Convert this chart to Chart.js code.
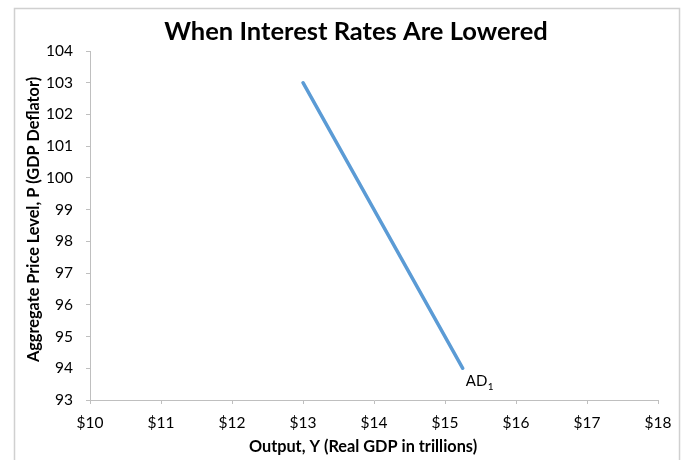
<!DOCTYPE html>
<html>
<head>
<meta charset="utf-8">
<script src="https://cdn.jsdelivr.net/npm/chart.js@4/dist/chart.umd.min.js"></script>
<style>
html,body{margin:0;padding:0;background:#fff;}
#wrap{width:684px;height:460px;position:relative;}
</style>
</head>
<body>
<div id="wrap"><canvas id="c" width="684" height="460"></canvas></div>
<script>
// Data
const chartTitle = 'When Interest Rates Are Lowered';
const xAxisTitle = 'Output, Y (Real GDP in trillions)';
const yAxisTitle = 'Aggregate Price Level, P (GDP Deflator)';
const outputTrillions = [13, 15.25];
const priceLevel = [103, 94];
const curveName = 'AD';
const curveSub = '1';
const xMin = 10, xMax = 18;
const yMin = 93, yMax = 104;

const FONT = 'Lato, "Liberation Sans", sans-serif';
const AXIS_GREY = '#bfbfbf';

const framePlugin = {
  id: 'frame',
  beforeDraw(chart) {
    const ctx = chart.ctx;
    ctx.save();
    ctx.strokeStyle = '#d0d0d0';
    ctx.lineWidth = 1.5;
    ctx.strokeRect(14.5, 8.5, 665, 480);
    ctx.restore();
  }
};

const titlesPlugin = {
  id: 'titles',
  afterDraw(chart) {
    const ctx = chart.ctx;
    const a = chart.chartArea;
    ctx.save();
    ctx.fillStyle = '#000';
    // main title
    ctx.font = 'bold 25.5px ' + FONT;
    ctx.textAlign = 'center';
    ctx.textBaseline = 'alphabetic';
    ctx.fillText(chartTitle, 356, 40);
    // x axis title
    ctx.font = 'bold 16.3px ' + FONT;
    ctx.textBaseline = 'middle';
    ctx.fillText(xAxisTitle, (a.left + a.right) / 2 - 11, a.bottom + 47);
    // y axis title
    ctx.translate(34, (a.top + a.bottom) / 2 - 6);
    ctx.rotate(-Math.PI / 2);
    ctx.fillText(yAxisTitle, 0, 0);
    ctx.restore();
  }
};

const curveLabelPlugin = {
  id: 'curveLabel',
  afterDatasetsDraw(chart) {
    const ctx = chart.ctx;
    const xs = chart.scales.x, ys = chart.scales.y;
    const i = outputTrillions.length - 1;
    const px = xs.getPixelForValue(outputTrillions[i]);
    const py = ys.getPixelForValue(priceLevel[i]);
    ctx.save();
    ctx.fillStyle = '#000';
    ctx.textBaseline = 'alphabetic';
    ctx.textAlign = 'left';
    ctx.font = '15px ' + FONT;
    const x0 = px + 3, y0 = py + 18;
    ctx.fillText(curveName, x0, y0);
    const w = ctx.measureText(curveName).width;
    ctx.font = '10px ' + FONT;
    ctx.fillText(curveSub, x0 + w + 0.5, y0 + 4);
    ctx.restore();
  }
};

new Chart(document.getElementById('c'), {
  type: 'scatter',
  data: {
    datasets: [{
      label: curveName + curveSub,
      data: outputTrillions.map((x, k) => ({x: x, y: priceLevel[k]})),
      showLine: true,
      borderColor: '#5b9bd5',
      backgroundColor: '#5b9bd5',
      borderWidth: 3.5,
      borderCapStyle: 'round',
      pointRadius: 0,
      pointHoverRadius: 0
    }]
  },
  options: {
    responsive: false,
    animation: false,
    events: [],
    layout: { padding: { left: 20, right: 26, top: 51, bottom: 0 } },
    plugins: {
      legend: { display: false },
      tooltip: { enabled: false },
      title: { display: false }
    },
    scales: {
      x: {
        type: 'linear',
        min: xMin, max: xMax,
        afterFit(s) { s.height = 60; },
        ticks: {
          stepSize: 1,
          color: '#000',
          padding: 10,
          maxRotation: 0,
          font: { family: FONT, size: 15.5 },
          callback: v => '$' + v
        },
        grid: { drawOnChartArea: false, drawTicks: true, tickLength: 4, color: AXIS_GREY },
        border: { color: AXIS_GREY, width: 1 },
        title: { display: false }
      },
      y: {
        type: 'linear',
        min: yMin, max: yMax,
        afterFit(s) { s.width = 70; },
        ticks: {
          stepSize: 1,
          color: '#000',
          padding: 13,
          font: { family: FONT, size: 15.5 }
        },
        grid: { drawOnChartArea: false, drawTicks: true, tickLength: 4, color: AXIS_GREY },
        border: { color: AXIS_GREY, width: 1 },
        title: { display: false }
      }
    }
  },
  plugins: [framePlugin, titlesPlugin, curveLabelPlugin]
});
</script>
</body>
</html>
